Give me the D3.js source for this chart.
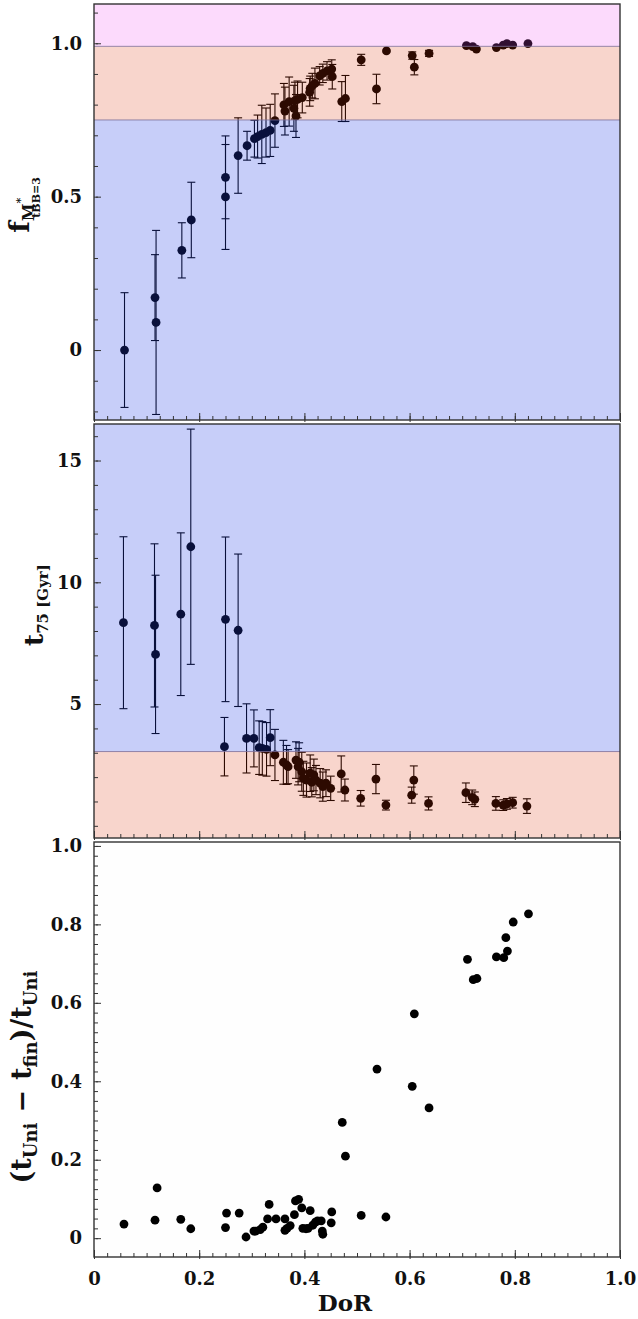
<!DOCTYPE html>
<html><head><meta charset="utf-8">
<script src="https://cdn.jsdelivr.net/npm/d3@7"></script>
<style>
html,body{margin:0;padding:0;background:#fff;}
svg{display:block;}
.tick text{font-family:"DejaVu Serif",serif;font-weight:bold;font-size:18px;fill:#111;}
.lab{font-family:"DejaVu Serif",serif;font-weight:bold;fill:#111;}
</style></head>
<body>
<script>
// ---------- data ----------
const topDoR = [0.058,0.116,0.118,0.167,0.185,0.250,0.250,0.274,0.291,0.305,0.311,0.319,0.327,0.335,0.344,0.361,0.363,0.371,0.380,0.382,0.384,0.387,0.396,0.410,0.411,0.415,0.420,0.429,0.435,0.443,0.452,0.453,0.471,0.478,0.508,0.537,0.556,0.605,0.609,0.637,0.708,0.720,0.727,0.765,0.778,0.785,0.796,0.825];
const topF   = [0.0,0.171,0.09,0.325,0.424,0.563,0.499,0.634,0.666,0.689,0.696,0.703,0.709,0.716,0.748,0.799,0.779,0.81,0.788,0.813,0.763,0.817,0.823,0.84,0.853,0.862,0.869,0.894,0.902,0.91,0.916,0.891,0.81,0.82,0.946,0.851,0.975,0.96,0.922,0.967,0.992,0.989,0.981,0.986,0.994,0.999,0.994,0.999];
const topErr = [0.187,0.14,0.30,0.09,0.123,0.135,0.171,0.123,0.047,0.06,0.07,0.095,0.08,0.085,0.087,0.07,0.078,0.08,0.075,0.06,0.07,0.06,0.05,0.045,0.04,0.04,0.05,0.03,0.03,0.03,0.03,0.04,0.065,0.075,0.018,0.048,0.005,0.012,0.025,0.01,0.005,0.005,0.005,0.005,0.005,0.004,0.004,0.004];

const midDoR = [0.056,0.115,0.117,0.165,0.184,0.248,0.250,0.274,0.290,0.304,0.314,0.320,0.328,0.335,0.344,0.360,0.366,0.369,0.384,0.388,0.390,0.395,0.398,0.404,0.411,0.414,0.418,0.422,0.430,0.435,0.441,0.450,0.470,0.477,0.507,0.536,0.555,0.604,0.608,0.636,0.707,0.719,0.724,0.764,0.778,0.785,0.796,0.823];
const midT75 = [8.34,8.23,7.04,8.69,11.46,3.25,8.48,8.03,3.59,3.59,3.21,3.18,3.14,3.62,2.91,2.61,2.50,2.43,2.70,2.43,2.61,2.22,1.95,1.88,2.16,1.79,2.09,1.88,1.75,1.61,1.75,1.54,2.13,1.47,1.13,1.92,0.85,1.26,1.88,0.92,1.36,1.17,1.09,0.92,0.85,0.90,0.95,0.81];
const midErr = [3.53,3.35,3.25,3.34,4.83,1.2,3.38,3.13,1.42,1.17,1.1,1.1,1.1,1.15,1.05,0.9,0.8,0.7,0.75,0.75,0.8,0.8,0.7,0.7,0.75,0.6,0.65,0.6,0.6,0.6,0.55,0.5,0.74,0.45,0.32,0.6,0.2,0.33,0.58,0.27,0.4,0.3,0.3,0.28,0.22,0.22,0.22,0.3];

const botDoR = [0.057,0.116,0.120,0.165,0.184,0.250,0.252,0.276,0.289,0.304,0.307,0.316,0.321,0.333,0.330,0.346,0.363,0.363,0.367,0.373,0.381,0.383,0.389,0.395,0.397,0.403,0.407,0.411,0.416,0.421,0.425,0.432,0.434,0.435,0.452,0.451,0.472,0.478,0.508,0.555,0.538,0.609,0.605,0.637,0.710,0.721,0.728,0.765,0.779,0.786,0.783,0.797,0.826];
const botFrac = [0.036,0.046,0.128,0.048,0.024,0.027,0.064,0.064,0.003,0.018,0.018,0.022,0.028,0.086,0.049,0.049,0.049,0.020,0.025,0.032,0.060,0.095,0.099,0.077,0.025,0.024,0.025,0.070,0.033,0.041,0.044,0.044,0.018,0.010,0.067,0.039,0.295,0.209,0.058,0.054,0.431,0.572,0.387,0.332,0.711,0.659,0.662,0.717,0.715,0.732,0.766,0.806,0.827];

const xTicks = [0,0.2,0.4,0.6,0.8,1.0];
const topYTicks = [0,0.5,1.0];
const midYTicks = [5,10,15];
const botYTicks = [0,0.2,0.4,0.6,0.8,1.0];
const topBands = [[-0.228,0.75],[0.75,0.99],[0.99,1.128]];
const midBands = [[3.05,16.5],[-0.5,3.05]];

// ---------- layout ----------
const W=638,H=1319;
const svg=d3.select("body").append("svg").attr("width",W).attr("height",H);
const x=d3.scaleLinear().domain([0,1]).range([94,620]);
const yTop=d3.scaleLinear().domain([-0.228,1.128]).range([420,4]);
const yMid=d3.scaleLinear().domain([-0.5,16.5]).range([838,424]);
const yBot=d3.scaleLinear().domain([-0.048,1.01]).range([1257,842]);
const fmt=d=>d===0?"0":(Number.isInteger(d)&&d>1?String(d):d3.format(".1f")(d));
const blue={c:"rgb(35,63,235)",a:0.25}, orange={c:"rgb(225,50,5)",a:0.2}, pink={c:"rgb(245,75,245)",a:0.2};

function panel(y,opts){
  const g=svg.append("g");
  const [y0,y1]=y.range();
  const id="clip"+Math.round(y0);
  svg.append("clipPath").attr("id",id).append("rect").attr("x",x(0)).attr("y",y1).attr("width",x(1)-x(0)).attr("height",y0-y1);
  const inner=g.append("g").attr("clip-path",`url(#${id})`);
  inner.append("rect").attr("x",x(0)).attr("y",y1).attr("width",x(1)-x(0)).attr("height",y0-y1).attr("fill","#fefefe");
  if(opts.err){
    const eb=inner.append("g").attr("stroke","#000").attr("stroke-width",1.1).attr("fill","none");
    opts.xs.forEach((xv,i)=>{
      const e=opts.err[i]; if(e<0.01) return;
      const cx=x(xv), t=y(opts.ys[i]+e), b=y(opts.ys[i]-e);
      eb.append("line").attr("x1",cx).attr("x2",cx).attr("y1",t).attr("y2",b);
      eb.append("line").attr("x1",cx-4).attr("x2",cx+4).attr("y1",t).attr("y2",t);
      eb.append("line").attr("x1",cx-4).attr("x2",cx+4).attr("y1",b).attr("y2",b);
    });
  }
  inner.append("g").selectAll("circle").data(opts.xs).join("circle")
    .attr("cx",d=>x(d)).attr("cy",(d,i)=>y(opts.ys[i])).attr("r",4.4).attr("fill","#000");
  if(opts.bands){
    opts.bands.forEach((b,i)=>{
      const st=opts.styles[i];
      inner.append("rect").attr("x",x(0)).attr("width",x(1)-x(0))
        .attr("y",y(b[1])).attr("height",y(b[0])-y(b[1])).attr("fill",st.c).attr("fill-opacity",st.a);
    });
    opts.lines.forEach(v=>{
      inner.append("line").attr("x1",x(0)).attr("x2",x(1)).attr("y1",y(v)).attr("y2",y(v))
        .attr("stroke","#7d6f98").attr("stroke-width",1).attr("stroke-opacity",0.8);
    });
  }
  const ya=g.append("g").attr("transform",`translate(${x(0)},0)`)
    .call(d3.axisLeft(y).tickValues(opts.yTicks).tickFormat(fmt).tickSizeInner(-7).tickSizeOuter(0).tickPadding(12));
  ya.select(".domain").remove();
  ya.selectAll(".tick line").attr("stroke","#333").attr("x1",2);
  const ym=g.append("g").attr("transform",`translate(${x(0)},0)`)
    .call(d3.axisLeft(y).tickValues(opts.yMinor).tickFormat("").tickSizeInner(-4).tickSizeOuter(0));
  ym.select(".domain").remove(); ym.selectAll(".tick line").attr("stroke","#333");
  const xa=g.append("g").attr("transform",`translate(0,${y0})`)
    .call(d3.axisBottom(x).tickValues(xTicks).tickFormat(opts.xLabels?fmt:"").tickSizeInner(-7).tickSizeOuter(0).tickPadding(15));
  xa.select(".domain").remove(); xa.selectAll(".tick line").attr("stroke","#333").attr("y1",2);
  const xm=g.append("g").attr("transform",`translate(0,${y0})`)
    .call(d3.axisBottom(x).tickValues(d3.range(0,1.0001,0.025)).tickFormat("").tickSizeInner(-4).tickSizeOuter(0));
  xm.select(".domain").remove(); xm.selectAll(".tick line").attr("stroke","#333");
  g.append("rect").attr("x",x(0)).attr("y",y1).attr("width",x(1)-x(0)).attr("height",y0-y1)
    .attr("fill","none").attr("stroke","#333").attr("stroke-width",1.4);
  return g;
}

panel(yTop,{xs:topDoR,ys:topF,err:topErr,yTicks:topYTicks,yMinor:d3.range(-0.2,1.101,0.1).map(v=>+v.toFixed(2)),
  bands:topBands,styles:[blue,orange,pink],lines:[0.75,0.99]});
panel(yMid,{xs:midDoR,ys:midT75,err:midErr,yTicks:midYTicks,yMinor:d3.range(0,17,1),
  bands:midBands,styles:[blue,orange],lines:[3.05]});
panel(yBot,{xs:botDoR,ys:botFrac,yTicks:botYTicks,yMinor:d3.range(0,1.001,0.025).map(v=>+v.toFixed(3)),xLabels:true});

// ---------- axis titles ----------
const t1=svg.append("text").attr("class","lab").attr("transform","translate(29,205) rotate(-90)").attr("text-anchor","middle");
t1.append("tspan").attr("font-size",27).text("f");
t1.append("tspan").attr("font-size",16).attr("dy",5).text("M");
t1.append("tspan").attr("font-size",11).attr("dy",-10).text("*");
t1.append("tspan").attr("font-size",11).attr("dx",-20).attr("dy",16).text("tBB=3");

const t2=svg.append("text").attr("class","lab").attr("transform","translate(43,605) rotate(-90)").attr("text-anchor","middle");
t2.append("tspan").attr("font-size",26).text("t");
t2.append("tspan").attr("font-size",15).attr("dy",5).text("75 [Gyr]");

const t3=svg.append("text").attr("class","lab").attr("transform","translate(31,1077) rotate(-90)")
  .attr("text-anchor","middle").attr("font-size",27);
t3.append("tspan").text("(t");
t3.append("tspan").attr("font-size",18).attr("dy",6).text("Uni");
t3.append("tspan").attr("dy",-6).attr("dx",10).text("−");
t3.append("tspan").attr("dx",10).text("t");
t3.append("tspan").attr("font-size",18).attr("dy",6).text("fin");
t3.append("tspan").attr("dy",-6).text(")/t");
t3.append("tspan").attr("font-size",18).attr("dy",6).text("Uni");

svg.append("text").attr("class","lab").attr("x",345).attr("y",1311).attr("text-anchor","middle").attr("font-size",23).text("DoR");
</script>
</body></html>
